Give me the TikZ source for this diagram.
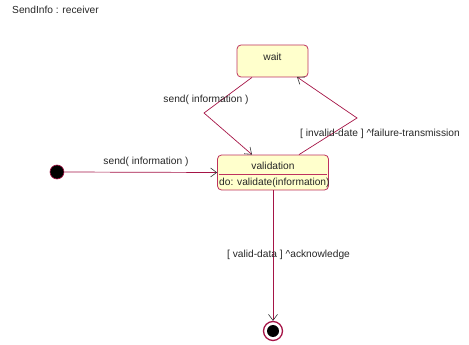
\documentclass[tikz,border=0pt]{standalone}
\usepackage{fontspec}
\setmainfont{Liberation Sans}
\usetikzlibrary{arrows.meta}
\definecolor{edgec}{RGB}{165,20,70}
\definecolor{boxc}{RGB}{190,50,95}
\definecolor{fillc}{RGB}{255,255,204}
\tikzset{
  x=1pt, y=-1pt,
  state/.style={draw=boxc, fill=fillc, rounded corners=4pt, line width=0.8pt},
  conn/.style={draw=edgec, line width=0.7pt},
  arr/.style={conn, -{Straight Barb[length=6pt,width=9pt,line width=0.6pt,color=black!80]}},
  lbl/.style={font=\fontsize{10.2}{11}\selectfont, inner sep=0pt, text=black!85},
}
\begin{document}
\begin{tikzpicture}
\useasboundingbox (0,0) rectangle (469,345);
\node[lbl, anchor=west] (title) at (12,10) {SendInfo : receiver};
% states
\node[state, minimum width=71pt, minimum height=32pt] (wait) at (272.5,61) {};
\node[lbl] at (272.5,57) {wait};
\node[state, minimum width=111pt, minimum height=35pt] (valid) at (273,172.5) {};
\draw[boxc, line width=0.8pt] (219,174) -- (327,174);
\node[lbl] (vname) at (273,166) {validation};
\node[lbl, anchor=west] (vdo) at (219,182.5) {do: validate(information)};
% initial & final
\node[circle, fill=black, draw=edgec, line width=0.6pt, minimum size=14pt, inner sep=0pt] (init) at (57,172) {};
\node[circle, draw=edgec, line width=1.3pt, fill=white, minimum size=19pt, inner sep=0pt] (fin) at (273,331) {};
\node[circle, fill=black, minimum size=12pt, inner sep=0pt] at (fin.center) {};
% connectors
\coordinate (lb) at (204,113);
\coordinate (rb) at (357,118);
\draw[arr] (init.east) -- (valid.west);
\node[lbl] at (146,162) {send( information )};
\draw[arr] (wait.south -| 252,0) -- (lb) -- (valid.north -| 252,0);
\node[lbl] at (206,100) {send( information )};
\draw[arr] (valid.north -| 299,0) -- (rb) -- (297,77);
\node[lbl, anchor=west] at (300,134) {[ invalid-date ] \^{}failure-transmission};
\draw[arr] (valid.south) -- (fin.north);
\node[lbl, anchor=west] at (227,255) {[ valid-data ] \^{}acknowledge};
\end{tikzpicture}
\end{document}
